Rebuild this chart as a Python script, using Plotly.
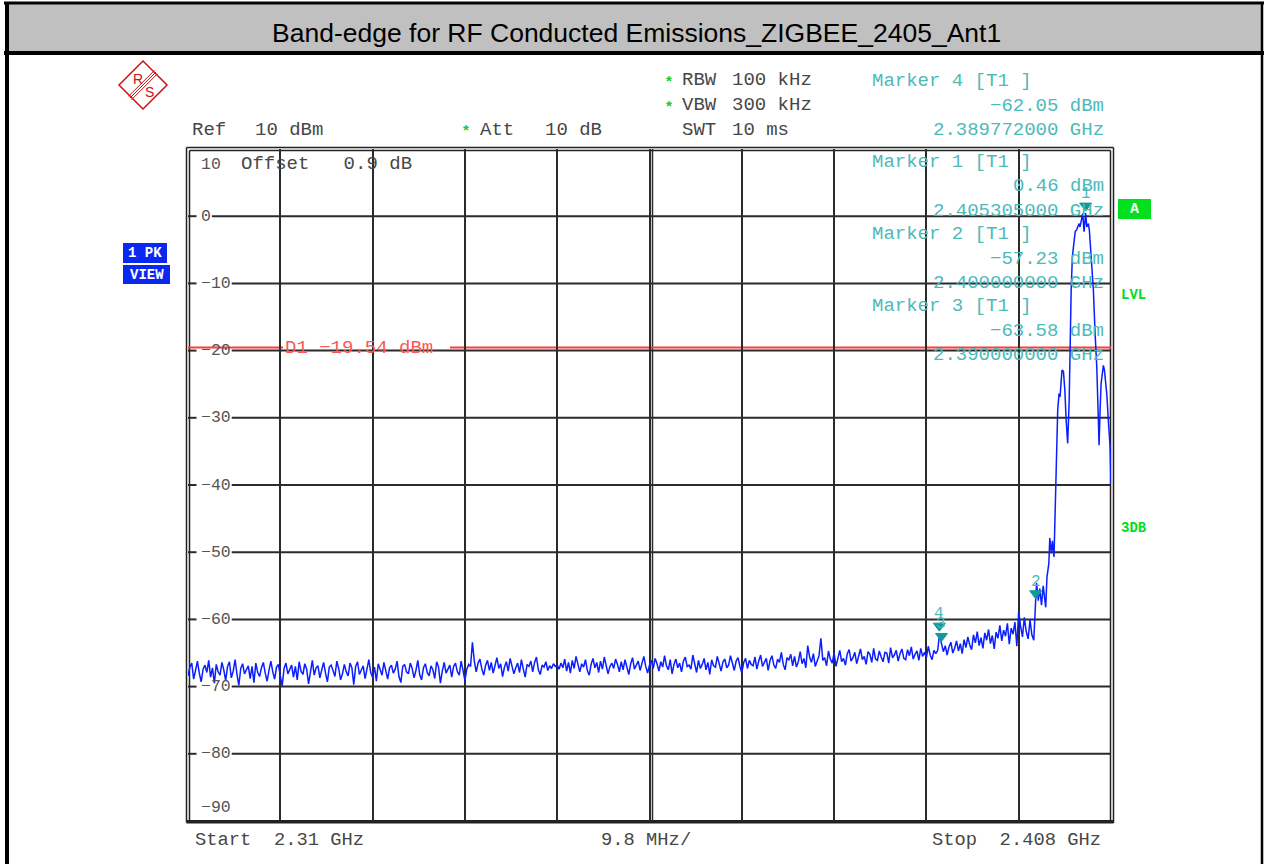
import numpy as np
import plotly.graph_objects as go

# ---------------- data ----------------
start_ghz = 2.310
stop_ghz = 2.408
span_div_ghz = 0.0098
ref_level = 10
bottom_level = -90
d1_level = -19.54

# noise floor, sweep points every 0.2 MHz starting at 2310.0 MHz
noise_step_mhz = 0.2
noise_a = [  # 2310.0 .. 2339.8 MHz
    -68.4, -67.1, -66.5, -68.9, -67.6, -66.2, -68.0, -69.3, -67.4, -66.8,
    -67.9, -66.1, -68.6, -67.2, -69.5, -66.7, -67.8, -68.3, -66.4, -67.5,
    -69.1, -67.0, -66.3, -68.7, -67.7, -66.0, -68.2, -69.8, -67.3, -66.6,
    -68.1, -67.4, -66.9, -68.8, -67.0, -69.4, -66.5, -67.9, -68.5, -67.2,
    -66.4, -68.0, -69.2, -67.6, -66.2, -67.8, -68.9, -67.1, -66.7, -68.4,
    -69.9, -67.3, -66.5, -68.1, -67.5, -66.8, -68.6, -67.0, -69.0, -66.3,
    -67.7, -68.2, -66.6, -67.4, -69.6, -67.9, -66.1, -68.3, -67.2, -66.9,
    -68.7, -67.5, -66.4, -68.0, -69.3, -67.1, -66.8, -67.6, -68.5, -66.2,
    -67.3, -69.0, -68.1, -66.7, -67.8, -68.4, -66.5, -67.2, -69.7, -67.0,
    -66.3, -68.2, -67.6, -66.9, -68.8, -67.4, -66.0, -67.9, -68.6, -67.1,
    -69.2, -66.6, -67.5, -68.3, -66.4, -67.7, -68.9, -67.2, -66.8, -68.0,
    -67.4, -66.2, -68.5, -69.4, -67.0, -66.7, -67.8, -68.1, -66.5, -67.3,
    -68.7, -67.6, -66.1, -68.2, -69.0, -67.2, -66.6, -67.9, -68.4, -66.9,
    -67.5, -68.8, -66.3, -67.1, -69.5, -67.7, -66.4, -68.0, -67.3, -66.8,
    -68.6, -67.0, -66.5, -67.8, -68.3, -66.2, -67.6, -69.1, -67.4, -66.7,
]
noise_b = [  # 2340.0 .. 2369.8 MHz
    -67.0, -63.4, -66.2, -67.8, -66.5, -65.9, -67.4, -68.3, -66.8, -66.1,
    -67.6, -66.4, -68.0, -66.9, -65.7, -67.3, -66.6, -68.5, -67.1, -66.3,
    -67.7, -65.8, -66.9, -68.1, -67.2, -66.5, -67.9, -66.0, -67.4, -68.6,
    -66.7, -67.0, -66.2, -67.8, -66.4, -65.6, -67.5, -68.2, -66.8, -67.1,
    -66.3, -67.6, -66.9, -67.3, -66.6, -67.0, -66.8, -67.4, -66.5, -67.2,
    -65.9, -67.7, -66.4, -68.0, -66.1, -67.3, -65.5, -66.9, -67.8, -66.6,
    -67.1, -66.0, -67.6, -68.3, -66.7, -65.8, -67.2, -66.4, -67.9, -66.2,
    -67.4, -65.6, -66.8, -68.1, -67.0, -66.5, -67.3, -65.9, -66.7, -67.8,
    -66.3, -67.5, -66.0, -67.1, -68.2, -66.6, -65.7, -67.4, -66.9, -66.2,
    -67.6, -66.4, -65.5, -67.0, -68.0, -66.8, -66.1, -67.3, -65.8, -66.6,
    -67.7, -66.3, -67.1, -65.4, -66.9, -67.5, -66.0, -68.1, -66.7, -65.9,
    -67.2, -66.5, -67.8, -66.2, -65.6, -67.0, -66.8, -67.4, -65.3, -66.6,
    -67.9, -66.1, -67.3, -66.7, -65.8, -67.5, -66.4, -68.2, -66.0, -66.9,
    -67.1, -65.5, -66.6, -67.7, -66.3, -65.9, -67.2, -66.8, -65.4, -66.5,
    -67.6, -66.2, -65.7, -67.0, -68.0, -66.4, -65.8, -67.3, -66.1, -66.7,
]
noise_c = [  # 2370.0 .. 2389.8 MHz
    -66.9, -65.6, -67.4, -66.2, -65.3, -67.0, -66.5, -65.8, -67.6, -66.1,
    -65.4, -66.8, -67.3, -65.9, -66.4, -64.9, -66.7, -67.5, -65.7, -66.0,
    -65.2, -66.9, -65.5, -67.1, -66.3, -64.8, -66.6, -65.8, -67.2, -63.9,
    -65.6, -66.4, -65.1, -67.0, -66.2, -65.4, -62.8, -66.1, -65.7, -66.9,
    -64.7, -65.9, -66.5, -65.0, -67.0, -65.6, -64.6, -66.3, -65.8, -66.8,
    -65.1, -64.5, -66.2, -65.7, -64.9, -66.6, -65.3, -64.4, -66.0, -65.5,
    -66.7, -64.8, -65.2, -66.4, -64.3, -65.9, -66.1, -64.7, -65.6, -66.3,
    -64.9, -65.0, -66.5, -64.2, -65.7, -65.3, -64.6, -66.2, -65.1, -64.4,
    -65.8, -66.0, -64.5, -65.4, -64.1, -65.9, -65.2, -64.7, -66.1, -64.3,
    -65.5, -64.9, -65.7, -64.0, -65.3, -66.0, -64.6, -65.1, -64.6, -62.1,
]
noise_d = [  # 2390.0 .. 2399.8 MHz
    -63.6, -64.8, -63.9, -65.3, -64.1, -63.4, -65.0, -64.3, -63.2, -64.7,
    -63.6, -65.1, -63.0, -64.2, -62.6, -63.8, -64.5, -62.3, -63.5, -61.8,
    -63.9, -62.7, -64.3, -62.0, -63.1, -61.5, -63.6, -62.4, -64.4, -61.9,
    -62.8, -60.9, -63.2, -61.6, -62.5, -60.6, -63.7, -61.3, -62.2, -60.4,
    -64.0, -58.8, -61.0, -62.6, -59.7, -61.8, -62.9, -60.1, -62.3, -63.1,
]
# band edge and the carrier, MHz / dBm
sig_freq_mhz = [
    2400.00, 2400.10, 2400.28, 2400.44, 2400.62, 2400.80, 2401.07, 2401.20,
    2401.40, 2401.50, 2401.67, 2401.78, 2401.95, 2402.05, 2402.20, 2402.34,
    2402.48, 2402.59, 2402.70, 2402.80, 2402.95, 2403.10, 2403.24, 2403.40,
    2403.56, 2403.67, 2403.77, 2403.90, 2404.01, 2404.20, 2404.36, 2404.61,
    2404.71, 2404.89, 2405.00, 2405.14, 2405.305, 2405.43, 2405.60, 2405.71,
    2405.96, 2406.13, 2406.31, 2406.49, 2406.66, 2406.73, 2406.84, 2406.95,
    2407.08, 2407.19, 2407.30, 2407.44, 2407.55, 2407.72, 2407.90, 2408.00,
]
sig_level = [
    -57.23, -54.6, -57.2, -55.4, -57.9, -55.0, -58.2, -53.7,
    -51.7, -47.9, -50.2, -48.3, -50.7, -43.8, -35.8, -28.9,
    -26.4, -26.9, -24.7, -22.9, -23.1, -25.9, -30.4, -33.8,
    -27.5, -17.5, -11.0, -6.0, -4.2, -2.3, -2.0, -1.1,
    -1.6, -0.1, 0.4, -2.3, 0.46, -1.6, -1.1, -2.2,
    -7.0, -11.0, -17.4, -22.4, -30.4, -34.1, -28.9, -24.9,
    -23.4, -22.2, -22.9, -24.4, -26.4, -30.4, -34.3, -39.8,
]

marker_ids = ["1", "2", "3", "4"]
marker_freq_ghz = [2.405305, 2.400000, 2.390000, 2.389772]
marker_level = [0.46, -57.23, -63.58, -62.05]

y_tick_levels = [10, 0, -10, -20, -30, -40, -50, -60, -70, -80, -90]

# ---------------- geometry helpers (pixels -> paper) ----------------
W, H = 1266, 864
L, R, T, B = 188, 1111, 149, 821


def PX(x):
    return (x - L) / (R - L)


def PY(y):
    return (B - y) / (B - T)


MONO = "Liberation Mono, Courier New, monospace"
SANS = "Liberation Sans, Arial, sans-serif"
GRID = "#2b2b2b"
TEXT = "#474747"
TEAL = "#4dbaba"
TEAL_DARK = "#129999"
GREEN = "#00dd22"

noise = noise_a + noise_b + noise_c + noise_d
noise_freq_mhz = 2310.0 + noise_step_mhz * np.arange(len(noise))
freq_ghz = np.concatenate([noise_freq_mhz, np.array(sig_freq_mhz)]) / 1000.0
level = np.array(noise + sig_level)

fig = go.Figure()
fig.add_trace(go.Scatter(x=freq_ghz, y=level, mode="lines",
                         line=dict(color="#0a1eff", width=1.5),
                         hoverinfo="skip"))

shapes = []
ann = []


def txt(x, y, s, color=TEXT, size=19, anchor="left", font=MONO, yanchor="middle"):
    ann.append(dict(x=PX(x), y=PY(y), xref="paper", yref="paper", text=s,
                    showarrow=False, xanchor=anchor, yanchor=yanchor,
                    font=dict(family=font, size=size, color=color)))


def pline(x0, y0, x1, y1, color="#222222", width=1.5, layer="below"):
    shapes.append(dict(type="line", xref="paper", yref="paper",
                       x0=PX(x0), y0=PY(y0), x1=PX(x1), y1=PY(y1),
                       line=dict(color=color, width=width), layer=layer))


def prect(x0, y0, x1, y1, fill, layer="below"):
    shapes.append(dict(type="rect", xref="paper", yref="paper",
                       x0=PX(x0), y0=PY(y0), x1=PX(x1), y1=PY(y1),
                       fillcolor=fill, line=dict(width=0), layer=layer))


# ---- outer frame and title bar ----
prect(6, 4, 1262, 53, "#c0c0c0")
pline(4, 3, 1264, 3, "#000000", 3)
pline(4, 53, 1264, 53, "#000000", 4)
pline(7, 2, 7, 866, "#000000", 4)
pline(1262, 2, 1262, 866, "#000000", 2.5)
txt(636, 33, "Band-edge for RF Conducted Emissions_ZIGBEE_2405_Ant1",
    color="#000000", size=26.5, anchor="center", font=SANS)

# ---- R&S logo ----
shapes.append(dict(type="path", xref="paper", yref="paper",
                   path=f"M {PX(119)},{PY(85)} L {PX(143)},{PY(61)} L {PX(167)},{PY(85)} "
                        f"L {PX(143)},{PY(109)} Z",
                   line=dict(color="#cc1111", width=1.5), layer="below"))
for d in (-1.6, 0.0, 1.6):
    pline(156 + d, 72 + d, 130 + d, 98 + d, "#cc1111", 1.0)
txt(138, 79, "R", color="#cc1111", size=14, anchor="center", font=SANS)
txt(149.5, 92, "S", color="#cc1111", size=14, anchor="center", font=SANS)

# ---- horizontal grid with gaps for the level labels ----
for lv in y_tick_levels:
    lab = str(lv).replace("-", "\u2212")
    if lv in (ref_level, bottom_level):
        ypx = 164.5 if lv == ref_level else 807
        txt(199, ypx, lab, color="#555555", size=16.5)
        continue
    gap_end = 199 + len(lab) * 9.9 + 3
    shapes.append(dict(type="line", xref="paper", yref="y", x0=0, x1=PX(196.5),
                       y0=lv, y1=lv, line=dict(color=GRID, width=2), layer="below"))
    shapes.append(dict(type="line", xref="paper", yref="y", x0=PX(gap_end), x1=1,
                       y0=lv, y1=lv, line=dict(color=GRID, width=2), layer="below"))
    ann.append(dict(x=PX(199), y=lv, xref="paper", yref="y", text=lab, showarrow=False,
                    xanchor="left", yanchor="middle",
                    font=dict(family=MONO, size=16.5, color="#555555")))

# centre double line
pline(652.5, T, 652.5, B, GRID, 1.5)

# plot frame (double lines)
pline(186.5, 147.5, 186.5, 822.5, "#222222", 1.5)
pline(189.5, 150.5, 189.5, 820.5, "#222222", 1.5)
pline(1110.5, 150.5, 1110.5, 820.5, "#222222", 1.5)
pline(1113.5, 147.5, 1113.5, 823, "#222222", 1.5)
pline(186.5, 147.5, 1113.5, 147.5, "#222222", 1.5)
pline(189.5, 150.5, 1110.5, 150.5, "#222222", 1.5)
pline(186.5, 821.8, 1113.5, 821.8, "#222222", 3.5)

# ---- display line D1 ----
shapes.append(dict(type="line", xref="paper", yref="y", x0=0, x1=PX(283),
                   y0=d1_level, y1=d1_level, line=dict(color="#ff3b3b", width=2),
                   layer="below"))
shapes.append(dict(type="line", xref="paper", yref="y", x0=PX(450), x1=1,
                   y0=d1_level, y1=d1_level, line=dict(color="#ff3b3b", width=2),
                   layer="below"))
ann.append(dict(x=PX(283), y=d1_level, xref="paper", yref="y",
                text=f"D1 {str(d1_level).replace('-', chr(0x2212))} dBm",
                showarrow=False, xanchor="left", yanchor="middle",
                font=dict(family=MONO, size=19, color="#ff5555")))

# ---- header texts ----
txt(190, 130, "Ref", size=19)
txt(253, 130, "10 dBm", size=19)
txt(478, 130, "Att", size=19)
txt(543, 130, "10 dB", size=19)
txt(680, 80, "RBW", size=19)
txt(730, 80, "100 kHz", size=19)
txt(680, 105, "VBW", size=19)
txt(730, 105, "300 kHz", size=19)
txt(680, 130, "SWT", size=19)
txt(730, 130, "10 ms", size=19)
for (ax, ay) in [(466, 129), (669, 80), (669, 105)]:
    txt(ax, ay, "<b>*</b>", color="#11cc33", size=15, anchor="center", font=SANS)
txt(239, 164.5, "Offset   0.9 dB", size=19)

# marker readouts
block_y = {"4": 81, "1": 162, "2": 234, "3": 306}
for mid, mf, ml in zip(marker_ids, marker_freq_ghz, marker_level):
    y0 = block_y[mid]
    txt(870, y0, f"Marker {mid} [T1 ]", color=TEAL, size=19)
    txt(1106, y0 + 24.5, f"{ml:.2f} dBm".replace("-", "\u2212"), color=TEAL, size=19,
        anchor="right")
    txt(1106, y0 + 49, f"{mf:.9f} GHz", color=TEAL, size=19, anchor="right")

# marker symbols on the trace
for mid, mf, ml in zip(marker_ids, marker_freq_ghz, marker_level):
    shapes.append(dict(type="path", xref="x", yref="y", xsizemode="pixel",
                       ysizemode="pixel", xanchor=mf, yanchor=ml,
                       path="M -6,10 L 6,10 L 0,2 Z", fillcolor=TEAL_DARK,
                       line=dict(color=TEAL_DARK, width=1), layer="above"))
    ann.append(dict(x=mf, y=ml, xref="x", yref="y", text=mid, showarrow=False,
                    yshift=19, xanchor="center", yanchor="middle",
                    font=dict(family=MONO, size=16, color=TEAL)))

# ---- side labels ----
prect(123, 243, 167, 263, "#0a28f0")
prect(123, 265, 170, 284, "#0a28f0")
txt(145, 253.5, "<b>1 PK</b>", color="#ffffff", size=14, anchor="center")
txt(146.5, 275, "<b>VIEW</b>", color="#ffffff", size=14, anchor="center")
prect(1118, 199, 1151, 219, "#00e01e")
txt(1134.5, 209.5, "<b>A</b>", color="#ffffff", size=15, anchor="center")
txt(1119, 295, "<b>LVL</b>", color=GREEN, size=14)
txt(1119, 528, "<b>3DB</b>", color=GREEN, size=14)

# ---- bottom texts ----
txt(193, 840, "Start  2.31 GHz", size=18.8)
txt(646, 840, f"{span_div_ghz * 1000:.1f} MHz/", size=18.8, anchor="center")
txt(1103, 840, f"Stop  {stop_ghz} GHz", size=18.8, anchor="right")

fig.update_layout(
    width=W, height=H,
    margin=dict(l=L, r=W - R, t=T, b=H - B, pad=0),
    paper_bgcolor="#ffffff", plot_bgcolor="#ffffff",
    showlegend=False,
    xaxis=dict(range=[start_ghz, stop_ghz], tick0=start_ghz, dtick=span_div_ghz,
               showgrid=True, gridcolor=GRID, gridwidth=2, showticklabels=False,
               ticks="", zeroline=False, showline=False, fixedrange=True),
    yaxis=dict(range=[bottom_level, ref_level], showgrid=False, showticklabels=False,
               ticks="", zeroline=False, showline=False, fixedrange=True),
    shapes=shapes, annotations=ann,
)
fig.write_html("out.html", config={"displayModeBar": False},
               post_script="document.body.style.margin='0px';")
